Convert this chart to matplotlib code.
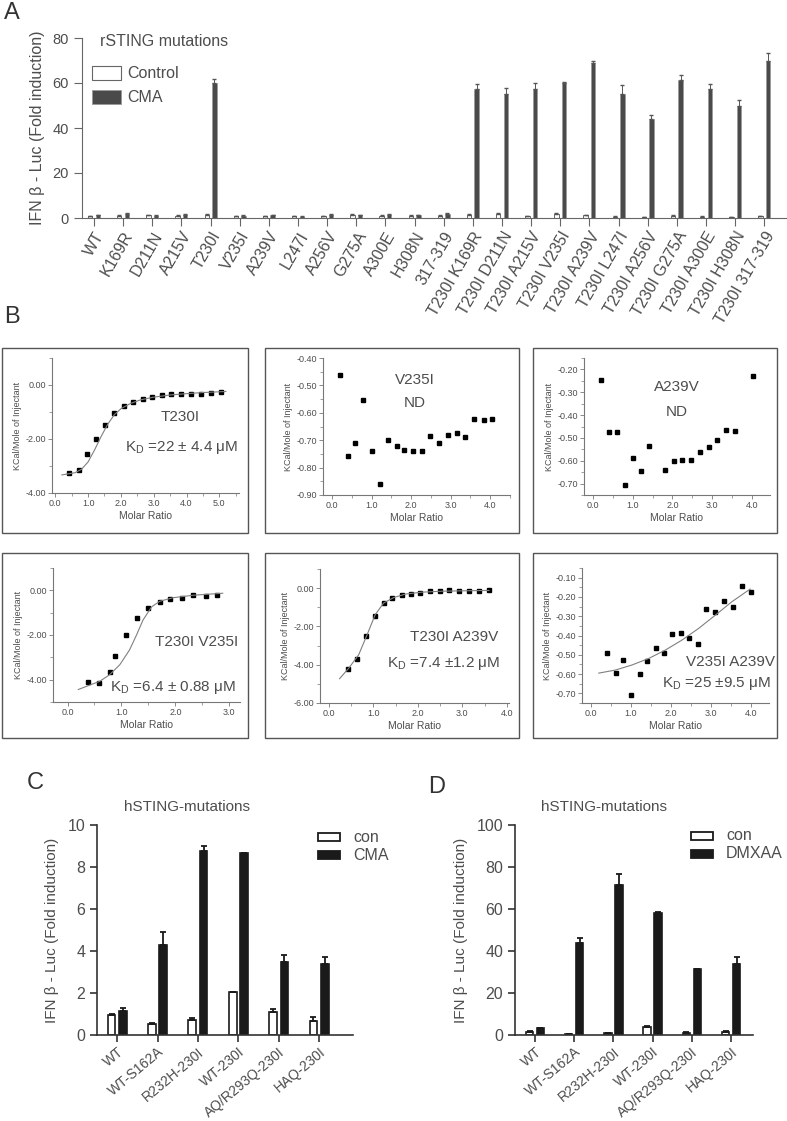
import matplotlib
matplotlib.use('Agg')
import matplotlib.pyplot as plt
from matplotlib.patches import Rectangle
from matplotlib.ticker import MultipleLocator, FormatStrFormatter
import numpy as np

plt.rcParams['font.family'] = ['Liberation Sans', 'DejaVu Sans']
plt.rcParams['axes.unicode_minus'] = False
plt.rcParams['mathtext.fontset'] = 'custom'
plt.rcParams['mathtext.rm'] = 'Liberation Sans'

# =============================================================================
# DATA
# =============================================================================

# Panel A - rSTING mutations
rsting_labels = ['WT', 'K169R', 'D211N', 'A215V', 'T230I', 'V235I', 'A239V', 'L247I',
                 'A256V', 'G275A', 'A300E', 'H308N', '317-319',
                 'T230I K169R', 'T230I D211N', 'T230I A215V', 'T230I V235I',
                 'T230I A239V', 'T230I L247I', 'T230I A256V', 'T230I G275A',
                 'T230I A300E', 'T230I H308N', 'T230I 317-319']
rsting_control = [0.8, 0.9, 1.2, 1.0, 1.3, 0.8, 0.9, 0.7, 0.8, 1.5, 1.0, 1.0, 1.1,
                  1.5, 1.8, 0.7, 2.0, 1.2, 0.6, 0.5, 1.0, 0.6, 0.5, 0.8]
rsting_control_err = [0.2, 0.3, 0.2, 0.2, 0.4, 0.2, 0.2, 0.1, 0.2, 0.2, 0.2, 0.2, 0.2,
                      0.2, 0.4, 0.3, 0.2, 0.2, 0.1, 0.1, 0.2, 0.1, 0.1, 0.2]
rsting_cma = [1.2, 1.8, 1.1, 1.4, 60.0, 1.0, 1.3, 0.6, 1.5, 1.3, 1.4, 1.3, 1.8,
              57.3, 55.2, 57.4, 60.1, 69.0, 55.3, 44.2, 61.4, 57.4, 49.9, 70.0]
rsting_cma_err = [0.2, 0.3, 0.2, 0.2, 1.8, 0.2, 0.2, 0.1, 0.3, 0.2, 0.2, 0.2, 0.3,
                  2.3, 2.5, 2.6, 0.5, 0.7, 4.0, 1.8, 2.0, 2.0, 2.5, 3.4]

# Panel B - ITC titrations (molar ratio, kcal/mole of injectant)
t230i_x = [0.42, 0.71, 0.98, 1.24, 1.53, 1.80, 2.08, 2.37, 2.66, 2.94, 3.24, 3.54,
           3.84, 4.14, 4.44, 4.75, 5.05]
t230i_y = [-3.27, -3.15, -2.57, -2.00, -1.48, -1.05, -0.78, -0.62, -0.52, -0.43,
           -0.38, -0.35, -0.32, -0.32, -0.32, -0.30, -0.25]
t230i_fit_x = [0.2, 0.6, 0.8, 1.0, 1.2, 1.4, 1.6, 1.8, 2.0, 2.3, 2.6, 3.0, 3.5, 4.0, 4.5, 5.2]
t230i_fit_y = [-3.33, -3.25, -3.12, -2.85, -2.40, -1.90, -1.45, -1.10, -0.88, -0.68,
               -0.55, -0.45, -0.37, -0.32, -0.28, -0.24]

v235i_x = [0.19, 0.41, 0.59, 0.79, 1.00, 1.21, 1.41, 1.63, 1.83, 2.05, 2.27, 2.48,
           2.71, 2.92, 3.15, 3.37, 3.59, 3.83, 4.05]
v235i_y = [-0.462, -0.759, -0.712, -0.554, -0.738, -0.860, -0.700, -0.720, -0.734,
           -0.740, -0.738, -0.683, -0.712, -0.682, -0.674, -0.687, -0.621, -0.626, -0.621]

a239v_x = [0.21, 0.41, 0.61, 0.80, 1.00, 1.21, 1.42, 1.82, 2.03, 2.25, 2.47, 2.69,
           2.92, 3.13, 3.35, 3.57, 4.03]
a239v_y = [-0.247, -0.475, -0.476, -0.706, -0.588, -0.644, -0.535, -0.640, -0.603,
           -0.597, -0.596, -0.560, -0.540, -0.510, -0.466, -0.469, -0.228]

t230i_v235i_x = [0.38, 0.58, 0.78, 0.88, 1.09, 1.29, 1.49, 1.71, 1.91, 2.13, 2.33, 2.56, 2.77]
t230i_v235i_y = [-4.12, -4.15, -3.66, -2.92, -1.99, -1.23, -0.77, -0.52, -0.40, -0.33,
                 -0.19, -0.24, -0.19]
t230i_v235i_fit_x = [0.2, 0.6, 0.78, 0.97, 1.15, 1.28, 1.40, 1.56, 1.71, 1.96, 2.33, 2.70, 2.88]
t230i_v235i_fit_y = [-4.44, -4.07, -3.78, -3.33, -2.67, -2.00, -1.33, -0.74, -0.49,
                     -0.33, -0.22, -0.16, -0.13]

t230i_a239v_x = [0.43, 0.63, 0.84, 1.04, 1.23, 1.43, 1.64, 1.84, 2.05, 2.28, 2.50,
                 2.71, 2.93, 3.15, 3.37, 3.60]
t230i_a239v_y = [-4.23, -3.70, -2.49, -1.44, -0.78, -0.52, -0.38, -0.28, -0.23, -0.17,
                 -0.14, -0.12, -0.14, -0.14, -0.14, -0.12]
t230i_a239v_fit_x = [0.24, 0.45, 0.67, 0.86, 1.04, 1.23, 1.46, 1.72, 2.09, 2.54, 2.99, 3.60]
t230i_a239v_fit_y = [-4.73, -4.17, -3.48, -2.43, -1.39, -0.78, -0.49, -0.31, -0.21,
                     -0.16, -0.14, -0.12]

v235i_a239v_x = [0.41, 0.62, 0.81, 1.01, 1.22, 1.41, 1.63, 1.83, 2.04, 2.25, 2.47,
                 2.68, 2.89, 3.12, 3.34, 3.56, 3.78, 4.02]
v235i_a239v_y = [-0.489, -0.593, -0.529, -0.706, -0.600, -0.533, -0.463, -0.489,
                 -0.394, -0.389, -0.415, -0.443, -0.263, -0.276, -0.219, -0.251,
                 -0.142, -0.173]
v235i_a239v_fit_x = [0.2, 0.62, 1.03, 1.45, 1.87, 2.28, 2.70, 3.12, 3.53, 3.99]
v235i_a239v_fit_y = [-0.595, -0.579, -0.553, -0.519, -0.475, -0.424, -0.363, -0.294,
                     -0.225, -0.159]

# Panels C and D - hSTING mutations
hsting_labels = ['WT', 'WT-S162A', 'R232H-230I', 'WT-230I', 'AQ/R293Q-230I', 'HAQ-230I']
c_con = [0.95, 0.53, 0.71, 2.05, 1.11, 0.68]
c_con_err = [0.05, 0.04, 0.08, 0.02, 0.14, 0.16]
c_cma = [1.16, 4.29, 8.75, 8.65, 3.46, 3.37]
c_cma_err = [0.14, 0.60, 0.25, 0.03, 0.35, 0.36]
d_con = [1.6, 0.3, 0.8, 4.0, 1.1, 1.6]
d_con_err = [0.2, 0.1, 0.1, 0.2, 0.1, 0.3]
d_dmxaa = [3.2, 44.0, 71.4, 57.9, 31.3, 34.0]
d_dmxaa_err = [0.3, 2.0, 5.4, 0.5, 0.3, 3.1]

# =============================================================================
# LAYOUT HELPERS (pixel coordinates of the 787x1121 figure)
# =============================================================================
W, H = 787, 1121
fig = plt.figure(figsize=(W / 100, H / 100), dpi=100)


def rect(l, t, r, b):
    return [l / W, 1 - b / H, (r - l) / W, (b - t) / H]


def ptext(x, y, s, **kw):
    fig.text(x / W, 1 - y / H, s, **kw)


def pbox(l, t, r, b, **kw):
    fig.patches.append(Rectangle((l / W, 1 - b / H), (r - l) / W, (b - t) / H,
                                 transform=fig.transFigure, **kw))


TXT = '#4d4d4d'

# =============================================================================
# PANEL A
# =============================================================================
axA = fig.add_axes(rect(82, 38, 787, 218))
xa = np.arange(len(rsting_labels))
wA = 0.15
axA.bar(xa - 0.13, rsting_control, wA, color='white', edgecolor='#666666', linewidth=0.7)
axA.bar(xa + 0.13, rsting_cma, wA, color='#4a4a4a', edgecolor='#999999', linewidth=0.5)
axA.errorbar(xa - 0.13, rsting_control, yerr=[np.zeros(len(xa)), rsting_control_err],
             fmt='none', ecolor='#555555', elinewidth=0.7, capsize=1.2)
axA.errorbar(xa + 0.13, rsting_cma, yerr=[np.zeros(len(xa)), rsting_cma_err],
             fmt='none', ecolor='#555555', elinewidth=0.7, capsize=1.2)
axA.set_xlim(-0.41, 23.78)
axA.set_ylim(0, 80)
axA.set_yticks([0, 20, 40, 60, 80])
axA.set_xticks(xa)
axA.set_xticklabels(rsting_labels, rotation=60, ha='right', rotation_mode='anchor',
                    fontsize=11.5, color=TXT)
axA.tick_params(axis='y', labelsize=10.5, labelcolor=TXT, color='#666666', length=6)
axA.tick_params(axis='x', color='#666666', length=6, pad=2)
for s in ['top', 'right']:
    axA.spines[s].set_visible(False)
for s in ['left', 'bottom']:
    axA.spines[s].set_color('#666666')
axA.set_ylabel('IFN β - Luc (Fold induction)', fontsize=11.5, color=TXT, labelpad=5)

# legend of panel A
ptext(100, 42, 'rSTING mutations', fontsize=11.5, color=TXT, va='center')
pbox(92, 66, 121, 80, facecolor='white', edgecolor='#666666', linewidth=0.8)
pbox(92, 90, 121, 104, facecolor='#4a4a4a', edgecolor='#999999', linewidth=0.6)
ptext(127, 73, 'Control', fontsize=11.5, color=TXT, va='center')
ptext(127, 97, 'CMA', fontsize=11.5, color=TXT, va='center')
ptext(4, 13, 'A', fontsize=17, color='#333333', va='center')

# =============================================================================
# PANEL B - ITC
# =============================================================================
ptext(4, 317, 'B', fontsize=17, color='#333333', va='center')

boxes = [(2, 348, 248, 533), (265, 348, 519, 533), (533, 348, 777, 533),
         (2, 553, 248, 738), (265, 553, 519, 738), (533, 553, 777, 738)]
for (l, t, r, b) in boxes:
    pbox(l, t, r, b, fill=False, edgecolor='#555555', linewidth=1.0)


def itc_axes(pos, xlim, ylim, ymajor, yminor, xs, ys, fit=None):
    ax = fig.add_axes(rect(*pos))
    ax.plot(xs, ys, 's', color='black', markersize=3.3)
    if fit is not None:
        ax.plot(fit[0], fit[1], '-', color='#808080', linewidth=0.8)
    ax.set_xlim(*xlim)
    ax.set_ylim(*ylim)
    ax.xaxis.set_major_locator(MultipleLocator(1.0))
    ax.xaxis.set_minor_locator(MultipleLocator(0.5))
    ax.yaxis.set_major_locator(MultipleLocator(ymajor))
    ax.yaxis.set_minor_locator(MultipleLocator(yminor))
    ax.xaxis.set_major_formatter(FormatStrFormatter('%.1f'))
    ax.yaxis.set_major_formatter(FormatStrFormatter('%.2f'))
    for s in ['top', 'right']:
        ax.spines[s].set_visible(False)
    for s in ['left', 'bottom']:
        ax.spines[s].set_color('#777777')
        ax.spines[s].set_linewidth(0.8)
    ax.tick_params(which='major', length=3, width=0.6, color='#777777',
                   labelsize=6.5, labelcolor=TXT, pad=1.5)
    ax.tick_params(which='minor', length=2, width=0.5, color='#777777')
    ax.set_xlabel('Molar Ratio', fontsize=7.5, color=TXT, labelpad=2)
    ax.set_ylabel('KCal/Mole of Injectant', fontsize=6.5, color=TXT, labelpad=2)
    return ax


itc_axes((52, 358, 239, 493), (-0.1, 5.6), (-4, 1), 2, 1, t230i_x, t230i_y,
         (t230i_fit_x, t230i_fit_y))
ptext(180, 417, 'T230I', fontsize=11, color=TXT, ha='center', va='center')
ptext(182, 448, r'K$_\mathregular{D}$ =22 $\pm$ 4.4 μM', fontsize=11, color=TXT,
      ha='center', va='center')

itc_axes((323, 358, 510, 495), (-0.23, 4.5), (-0.9, -0.4), 0.1, 0.05, v235i_x, v235i_y)
ptext(415, 380, 'V235I', fontsize=11, color=TXT, ha='center', va='center')
ptext(415, 403, 'ND', fontsize=11, color=TXT, ha='center', va='center')

itc_axes((584, 358, 770, 495), (-0.23, 4.46), (-0.75, -0.15), 0.1, 0.05, a239v_x, a239v_y)
ptext(677, 387, 'A239V', fontsize=11, color=TXT, ha='center', va='center')
ptext(677, 412, 'ND', fontsize=11, color=TXT, ha='center', va='center')

itc_axes((53, 568, 240, 702), (-0.27, 3.2), (-5, 1), 2, 1, t230i_v235i_x, t230i_v235i_y,
         (t230i_v235i_fit_x, t230i_v235i_fit_y))
ptext(197, 642, 'T230I V235I', fontsize=11, color=TXT, ha='center', va='center')
ptext(173, 688, r'K$_\mathregular{D}$ =6.4 $\pm$ 0.88 μM', fontsize=11, color=TXT,
      ha='center', va='center')

itc_axes((320, 569, 509, 703), (-0.2, 4.05), (-6, 1), 2, 1, t230i_a239v_x, t230i_a239v_y,
         (t230i_a239v_fit_x, t230i_a239v_fit_y))
ptext(454, 637, 'T230I A239V', fontsize=11, color=TXT, ha='center', va='center')
ptext(444, 664, r'K$_\mathregular{D}$ =7.4 $\pm$1.2 μM', fontsize=11, color=TXT,
      ha='center', va='center')

itc_axes((582, 568, 769, 703), (-0.22, 4.46), (-0.75, -0.05), 0.1, 0.05,
         v235i_a239v_x, v235i_a239v_y, (v235i_a239v_fit_x, v235i_a239v_fit_y))
ptext(730, 662, 'V235I A239V', fontsize=11, color=TXT, ha='center', va='center')
ptext(716, 684, r'K$_\mathregular{D}$ =25 $\pm$9.5 μM', fontsize=11, color=TXT,
      ha='center', va='center')

# =============================================================================
# PANELS C and D
# =============================================================================


def hsting_axes(pos, con, con_err, trt, trt_err, trt_name, ylim, ystep, xlim,
                title_x, leg_x, leg_y):
    ax = fig.add_axes(rect(*pos))
    x = np.arange(len(hsting_labels))
    w = 0.19
    ax.bar(x - 0.14, con, w, color='white', edgecolor='#1a1a1a', linewidth=1.2)
    ax.bar(x + 0.14, trt, w, color='#1a1a1a', edgecolor='#1a1a1a', linewidth=1.2)
    ax.errorbar(x - 0.14, con, yerr=[np.zeros(len(x)), con_err], fmt='none',
                ecolor='#1a1a1a', elinewidth=1.3, capsize=2.5, capthick=1.3)
    ax.errorbar(x + 0.14, trt, yerr=[np.zeros(len(x)), trt_err], fmt='none',
                ecolor='#1a1a1a', elinewidth=1.3, capsize=2.5, capthick=1.3)
    ax.set_xlim(*xlim)
    ax.set_ylim(*ylim)
    ax.yaxis.set_major_locator(MultipleLocator(ystep))
    ax.set_xticks(x)
    ax.set_xticklabels(hsting_labels, rotation=40, ha='right', rotation_mode='anchor',
                       fontsize=10, color=TXT)
    for s in ['top', 'right']:
        ax.spines[s].set_visible(False)
    for s in ['left', 'bottom']:
        ax.spines[s].set_color('#333333')
        ax.spines[s].set_linewidth(1.2)
    ax.tick_params(axis='y', labelsize=11.5, labelcolor=TXT, color='#333333', length=5, width=1.2)
    ax.tick_params(axis='x', color='#333333', length=5, width=1.2, pad=2)
    ax.set_ylabel('IFN β - Luc (Fold induction)', fontsize=11, color=TXT, labelpad=6)
    ptext(title_x, 807, 'hSTING-mutations', fontsize=11, color=TXT, ha='center', va='center')
    # legend
    pbox(leg_x, leg_y - 4, leg_x + 22, leg_y + 4, facecolor='white', edgecolor='#1a1a1a',
         linewidth=1.3)
    pbox(leg_x, leg_y + 14, leg_x + 22, leg_y + 22, facecolor='#1a1a1a', edgecolor='#1a1a1a',
         linewidth=1.3)
    ptext(leg_x + 35, leg_y, 'con', fontsize=11.5, color=TXT, va='center')
    ptext(leg_x + 35, leg_y + 18, trt_name, fontsize=11.5, color=TXT, va='center')
    return ax


hsting_axes((97, 825, 353, 1035), c_con, c_con_err, c_cma, c_cma_err, 'CMA',
            (0, 10), 2, (-0.5, 5.84), 187, 318, 837)
ptext(27, 783, 'C', fontsize=17, color='#333333', va='center')

hsting_axes((515, 825, 753, 1035), d_con, d_con_err, d_dmxaa, d_dmxaa_err, 'DMXAA',
            (0, 100), 20, (-0.51, 5.56), 604, 691, 836)
ptext(428, 787, 'D', fontsize=17, color='#333333', va='center')

fig.savefig('out.png', dpi=100, facecolor='white')
